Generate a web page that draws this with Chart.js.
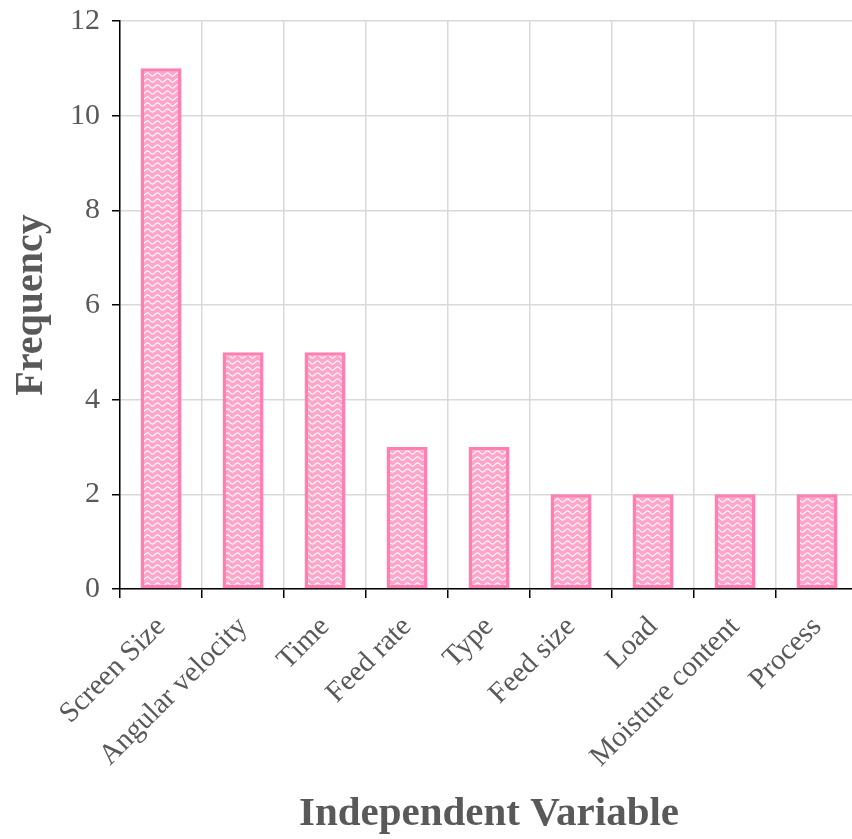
<!DOCTYPE html>
<html>
<head>
<meta charset="utf-8">
<script src="https://cdn.jsdelivr.net/npm/chart.js@4.4.1/dist/chart.umd.min.js"></script>
<style>
  html, body { margin: 0; padding: 0; background: #ffffff; overflow: hidden; }
  #wrap { width: 862px; height: 839px; }
</style>
</head>
<body>
<div id="wrap"><canvas id="chart"></canvas></div>
<script>
const categories = ["Screen Size", "Angular velocity", "Time", "Feed rate", "Type", "Feed size", "Load", "Moisture content", "Process"];
const frequency = [11, 5, 5, 3, 3, 2, 2, 2, 2];
const yTicks = [0, 2, 4, 6, 8, 10, 12];

// Pink fill with white wavy lines
function wavePattern() {
  const c = document.createElement('canvas');
  c.width = 10; c.height = 6;
  const g = c.getContext('2d');
  g.fillStyle = '#ffa6c9';
  g.fillRect(0, 0, 10, 6);
  g.strokeStyle = '#ffffff';
  g.lineWidth = 1.1;
  g.beginPath();
  for (let x = 0; x <= 10; x += 0.5) {
    const y = 2.5 + 1.6 * Math.sin(x / 10 * Math.PI * 2);
    if (x === 0) g.moveTo(x, y); else g.lineTo(x, y);
  }
  g.stroke();
  return g.createPattern(c, 'repeat');
}

const font = "'Liberation Serif', 'DejaVu Serif', serif";
const grey = '#595959';

new Chart(document.getElementById('chart'), {
  type: 'bar',
  data: {
    labels: categories,
    datasets: [{
      data: frequency,
      backgroundColor: wavePattern(),
      borderColor: '#ff7fb3',
      borderWidth: 3.5,
      borderSkipped: false,
      barPercentage: 0.5,
      categoryPercentage: 1.0
    }]
  },
  options: {
    responsive: true,
    maintainAspectRatio: false,
    animation: false,
    layout: { padding: { top: 21, right: 4, left: 0, bottom: 0 } },
    plugins: { legend: { display: false }, tooltip: { enabled: false } },
    scales: {
      x: {
        offset: true,
        afterFit: (axis) => { axis.height = 250; },
        grid: { offset: true, color: '#d9d9d9', lineWidth: 1.5, tickColor: '#000000', tickLength: 9, drawOnChartArea: true },
        border: { color: '#000000', width: 1.5 },
        ticks: {
          color: grey, font: { family: font, size: 29 },
          minRotation: 45, maxRotation: 45, padding: 12
        },
        title: {
          display: true, text: 'Independent Variable', color: grey,
          font: { family: font, size: 41, weight: 'bold' }, padding: { top: 4, bottom: 0 }
        }
      },
      y: {
        min: 0, max: 12,
        afterBuildTicks: (axis) => { axis.ticks = yTicks.map(v => ({ value: v })); },
        afterFit: (axis) => { axis.width = 120; axis.paddingTop = 0; axis.paddingBottom = 0; },
        grid: { color: '#d9d9d9', lineWidth: 1.5, tickColor: '#000000', tickLength: 8 },
        border: { color: '#000000', width: 1.5 },
        ticks: { color: grey, font: { family: font, size: 30 }, padding: 12 },
        title: {
          display: true, text: 'Frequency', color: grey,
          font: { family: font, size: 40, weight: 'bold' }, padding: { top: 8, bottom: 8 }
        }
      }
    }
  }
});
</script>
</body>
</html>
